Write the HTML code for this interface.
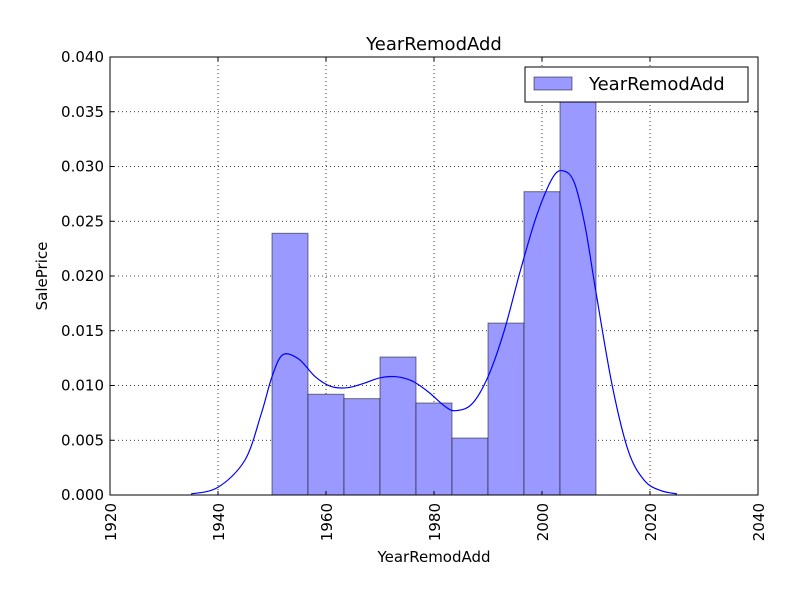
<!DOCTYPE html>
<html><head><meta charset="utf-8"><style>
body{margin:0;background:#fff;}
svg{display:block;font-family:"DejaVu Sans","Liberation Sans",sans-serif;}
</style></head><body>
<svg id="chart" width="800" height="600" viewBox="0 0 800 600" xmlns="http://www.w3.org/2000/svg">
<rect width="800" height="600" fill="#fff"/>
<g id="grid"></g>
<g id="bars"></g>
<path id="kde" fill="none" stroke="#0000ff" stroke-width="1.2"/>
<rect x="110" y="57" width="648" height="438" fill="none" stroke="#000" stroke-width="1"/>
<g id="ticks"></g>
<text x="434" y="50" text-anchor="middle" font-size="18">YearRemodAdd</text>
<text x="434" y="562" text-anchor="middle" font-size="15">YearRemodAdd</text>
<text transform="translate(47,276) rotate(-90)" text-anchor="middle" font-size="15">SalePrice</text>
<g>
<rect x="525" y="67" width="223" height="35" fill="#fff" stroke="#000"/>
<rect x="534" y="77" width="38" height="13" fill="#9999ff" stroke="rgba(0,0,0,0.5)"/>
<text x="589" y="90" font-size="18">YearRemodAdd</text>
</g>
</svg>
<script>
const binStart=1950, binEnd=2010;
const binDensities=[0.0239,0.0092,0.0088,0.0126,0.0084,0.0052,0.0157,0.0277,0.0359];
const kdeYears=[1935,1940,1945,1948,1950,1952,1955,1958,1961,1964,1967,1970,1973,1976,1979,1982,1984,1987,1990,1993,1996,1999,2002,2004,2006,2008,2010,2013,2016,2019,2022,2025];
const kdeValues=[0.0001,0.0007,0.0032,0.0074,0.0108,0.0128,0.0124,0.0108,0.0099,0.0098,0.0102,0.0107,0.0108,0.0104,0.0094,0.0081,0.0077,0.0083,0.0108,0.0150,0.0205,0.0255,0.0290,0.0296,0.0285,0.0245,0.0185,0.0100,0.0040,0.0013,0.0004,0.0001];
const xTicks=[1920,1940,1960,1980,2000,2020,2040];
const yTicks=[0,0.005,0.010,0.015,0.020,0.025,0.030,0.035,0.040];
const yTickLabels=["0.000","0.005","0.010","0.015","0.020","0.025","0.030","0.035","0.040"];
const X0=110,X1=758,Y0=495,Y1=57;
const xs=v=>X0+(v-1920)/120*(X1-X0);
const ys=v=>Y0-(v/0.04)*(Y0-Y1);
const NS="http://www.w3.org/2000/svg";
function mk(tag,attrs,parent){const e=document.createElementNS(NS,tag);for(const k in attrs)e.setAttribute(k,attrs[k]);parent.appendChild(e);return e;}
const grid=document.getElementById('grid'),bars=document.getElementById('bars'),ticks=document.getElementById('ticks');
xTicks.forEach((t,i)=>{
  const x=xs(t);
  const l=mk('line',{x1:x,x2:x,y1:Y1,y2:Y0,stroke:'#000','stroke-dasharray':'1,3','stroke-width':0.8},grid);
  
  
  mk('line',{x1:x,x2:x,y1:Y0,y2:Y0-4,stroke:'#000'},ticks);
  mk('line',{x1:x,x2:x,y1:Y1,y2:Y1+4,stroke:'#000'},ticks);
  const tx=mk('text',{transform:`translate(${x+6},${Y0+8}) rotate(-90)`,'text-anchor':'end','font-size':15},ticks);
  tx.textContent=t;
  
  
});
yTicks.forEach((t,i)=>{
  const y=ys(t);
  const l=mk('line',{x1:X0,x2:X1,y1:y,y2:y,stroke:'#000','stroke-dasharray':'1,3','stroke-width':0.8},grid);
  
  
  mk('line',{x1:X0,x2:X0+4,y1:y,y2:y,stroke:'#000'},ticks);
  mk('line',{x1:X1,x2:X1-4,y1:y,y2:y,stroke:'#000'},ticks);
  const tx=mk('text',{x:X0-6,y:y+5,'text-anchor':'end','font-size':15},ticks);
  tx.textContent=yTickLabels[i];
  
  
});
const bw=(binEnd-binStart)/binDensities.length;
binDensities.forEach((d,i)=>{
  const xa=xs(binStart+i*bw),xb=xs(binStart+(i+1)*bw);
  const r=mk('rect',{x:xa,y:ys(d),width:xb-xa,height:Y0-ys(d),fill:'#9999ff',stroke:'rgba(0,0,0,0.5)','stroke-width':1},bars);
  
  
});
const pts=kdeYears.map((yr,i)=>[xs(yr),ys(kdeValues[i])]);
let p='M'+pts[0][0].toFixed(1)+','+pts[0][1].toFixed(1);
for(let i=0;i<pts.length-1;i++){
  const p0=pts[Math.max(0,i-1)],p1=pts[i],p2=pts[i+1],p3=pts[Math.min(pts.length-1,i+2)];
  const c1=[p1[0]+(p2[0]-p0[0])/6,p1[1]+(p2[1]-p0[1])/6];
  const c2=[p2[0]-(p3[0]-p1[0])/6,p2[1]-(p3[1]-p1[1])/6];
  p+=`C${c1[0].toFixed(1)},${c1[1].toFixed(1)} ${c2[0].toFixed(1)},${c2[1].toFixed(1)} ${p2[0].toFixed(1)},${p2[1].toFixed(1)}`;
}
document.getElementById('kde').setAttribute('d',p);
</script>
</body></html>
